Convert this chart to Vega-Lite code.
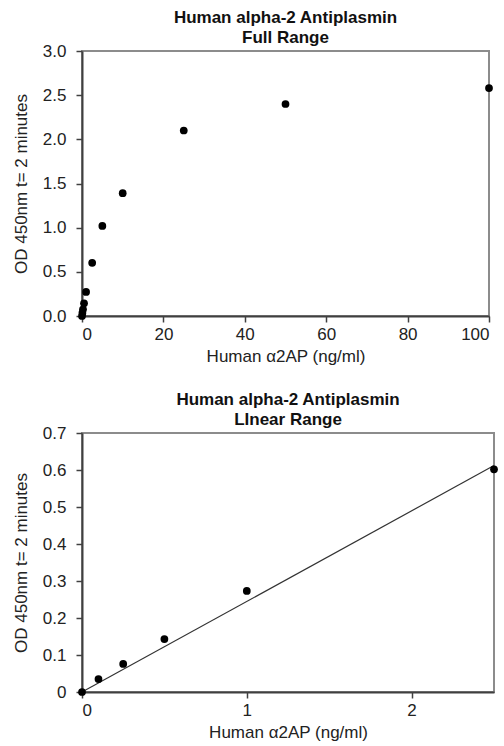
{
  "$schema": "https://vega.github.io/schema/vega-lite/v6.json",
  "background": "white",
  "padding": {"left": 11, "top": 8, "right": 4, "bottom": 2},
  "spacing": 25,
  "datasets": {
    "full": [
      {"conc": 0, "od": 0.0},
      {"conc": 0.1, "od": 0.035},
      {"conc": 0.25, "od": 0.076},
      {"conc": 0.5, "od": 0.143},
      {"conc": 1, "od": 0.273},
      {"conc": 2.5, "od": 0.602},
      {"conc": 5, "od": 1.02},
      {"conc": 10, "od": 1.39},
      {"conc": 25, "od": 2.10},
      {"conc": 50, "od": 2.40},
      {"conc": 100, "od": 2.58}
    ],
    "linear": [
      {"conc": 0, "od": 0.0},
      {"conc": 0.1, "od": 0.035},
      {"conc": 0.25, "od": 0.076},
      {"conc": 0.5, "od": 0.143},
      {"conc": 1, "od": 0.273},
      {"conc": 2.5, "od": 0.602}
    ],
    "fit": [
      {"conc": 0, "od": 0.0},
      {"conc": 2.5, "od": 0.612}
    ]
  },
  "config": {
    "font": "Liberation Sans",
    "view": {"stroke": "#8c8c8c", "strokeWidth": 2},
    "axis": {
      "grid": false,
      "domainColor": "#404040",
      "domainWidth": 2,
      "tickColor": "#404040",
      "tickWidth": 1.5,
      "tickSize": 6,
      "labelFont": "Liberation Sans",
      "labelFontSize": 17,
      "labelColor": "#222222",
      "labelPadding": 4,
      "labelOverlap": false,
      "titleFont": "Liberation Sans",
      "titleFontSize": 17,
      "titleFontWeight": "normal",
      "titleColor": "#222222"
    },
    "axisY": {"labelPadding": 10, "titlePadding": 12},
    "title": {
      "font": "Liberation Sans",
      "fontSize": 17,
      "fontWeight": "bold",
      "color": "#111111",
      "lineHeight": 20,
      "offset": -5
    }
  },
  "vconcat": [
    {
      "width": 407,
      "height": 265,
      "title": {"text": ["Human alpha-2 Antiplasmin", "Full Range"]},
      "data": {"name": "full"},
      "mark": {"type": "point", "filled": true, "color": "black", "opacity": 1, "size": 60},
      "encoding": {
        "x": {
          "field": "conc", "type": "quantitative",
          "scale": {"domain": [0, 100]},
          "axis": {"values": [0, 20, 40, 60, 80, 100], "title": "Human α2AP (ng/ml)", "titlePadding": 6}
        },
        "y": {
          "field": "od", "type": "quantitative",
          "scale": {"domain": [0, 3]},
          "axis": {"values": [0, 0.5, 1, 1.5, 2, 2.5, 3], "format": ".1f", "title": "OD 450nm t= 2 minutes"}
        }
      }
    },
    {
      "width": 412,
      "height": 259,
      "title": {"text": ["Human alpha-2 Antiplasmin", "LInear Range"]},
      "encoding": {
        "x": {
          "field": "conc", "type": "quantitative",
          "scale": {"domain": [0, 2.5]},
          "axis": {"values": [0, 1, 2], "format": "d", "title": "Human α2AP (ng/ml)", "titlePadding": 6}
        },
        "y": {
          "field": "od", "type": "quantitative",
          "scale": {"domain": [0, 0.7]},
          "axis": {"values": [0, 0.1, 0.2, 0.3, 0.4, 0.5, 0.6, 0.7], "format": ".1~f", "title": "OD 450nm t= 2 minutes"}
        }
      },
      "layer": [
        {
          "data": {"name": "fit"},
          "mark": {"type": "line", "color": "#333333", "strokeWidth": 1.2}
        },
        {
          "data": {"name": "linear"},
          "mark": {"type": "point", "filled": true, "color": "black", "opacity": 1, "size": 60}
        }
      ]
    }
  ]
}
